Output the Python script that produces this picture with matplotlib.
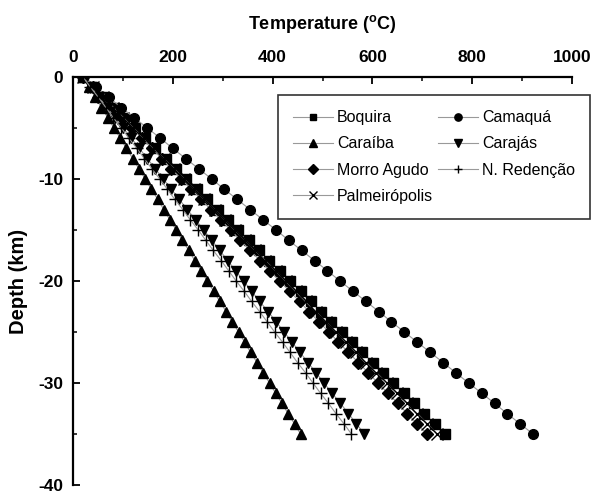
import matplotlib
matplotlib.use("Agg")
import matplotlib.pyplot as plt
from matplotlib.ticker import MultipleLocator

plt.rcParams["font.family"] = ["Liberation Sans", "DejaVu Sans"]
plt.rcParams["mathtext.fontset"] = "custom"
plt.rcParams["mathtext.rm"] = "Liberation Sans:bold"
plt.rcParams["mathtext.bf"] = "Liberation Sans:bold"
plt.rcParams["axes.unicode_minus"] = False

# depth (km), one point every km down to 35 km
DEPTH = [-z for z in range(0, 36)]

BOQUIRA = [20, 41, 61, 82, 103, 124, 144, 165, 186, 207, 227, 248, 269, 290,
           310, 331, 352, 373, 393, 414, 435, 456, 476, 497, 518, 539, 559,
           580, 601, 621, 642, 663, 684, 704, 725, 746]
CAMAQUA = [20, 46, 72, 97, 123, 149, 175, 200, 226, 252, 278, 303, 329, 355,
           381, 407, 432, 458, 484, 510, 535, 561, 587, 613, 638, 664, 690,
           716, 742, 767, 793, 819, 845, 870, 896, 922]
CARAIBA = [20, 32, 45, 57, 70, 82, 95, 107, 120, 132, 145, 157, 170, 182,
           194, 207, 219, 232, 244, 257, 269, 282, 294, 307, 319, 332, 344,
           356, 369, 381, 394, 406, 419, 431, 444, 456]
CARAJAS = [20, 36, 52, 68, 84, 101, 117, 133, 149, 165, 181, 197, 213, 229,
           246, 262, 278, 294, 310, 326, 342, 358, 374, 391, 407, 423, 439,
           455, 471, 487, 503, 519, 536, 552, 568, 584]
MORRO_AGUDO = [20, 40, 59, 79, 99, 119, 138, 158, 178, 197, 217, 237, 257,
               276, 296, 316, 335, 355, 375, 394, 414, 434, 454, 473, 493,
               513, 532, 552, 572, 592, 611, 631, 651, 670, 690, 710]
N_REDENCAO = [20, 35, 51, 66, 81, 97, 112, 128, 143, 158, 174, 189, 204, 220,
              235, 251, 266, 281, 297, 312, 327, 343, 358, 374, 389, 404, 420,
              435, 450, 466, 481, 496, 512, 527, 543, 558]
PALMEIROPOLIS = [20, 40, 61, 81, 101, 121, 142, 162, 182, 203, 223, 243, 263,
                 284, 304, 324, 345, 365, 385, 406, 426, 446, 466, 487, 507,
                 527, 548, 568, 588, 608, 629, 649, 669, 690, 710, 730]

# legend order is column-major with ncol=2
SERIES = [
    ("Boquira", BOQUIRA, "s", 6.5),
    ("Caraíba", CARAIBA, "^", 7.5),
    ("Morro Agudo", MORRO_AGUDO, "D", 6.3),
    ("Palmeirópolis", PALMEIROPOLIS, "x", 8),
    ("Camaquá", CAMAQUA, "o", 7),
    ("Carajás", CARAJAS, "v", 7.5),
    ("N. Redenção", N_REDENCAO, "+", 8),
]

fig = plt.figure(figsize=(5.92, 4.95), dpi=100)
ax = fig.add_axes([73 / 592, 1 - 485 / 495, 499 / 592, 408 / 495])

for name, temp, mk, ms in SERIES:
    ax.plot(temp, DEPTH, color="0.6", lw=0.8, marker=mk, ms=ms,
            mfc="black", mec="black", mew=1.0, label=name)

ax.set_xlim(0, 1000)
ax.set_ylim(-40, 0)
ax.xaxis.tick_top()
ax.xaxis.set_label_position("top")
ax.xaxis.set_major_locator(MultipleLocator(200))
ax.xaxis.set_minor_locator(MultipleLocator(100))
ax.yaxis.set_major_locator(MultipleLocator(10))
ax.yaxis.set_minor_locator(MultipleLocator(5))
for side in ("right", "bottom"):
    ax.spines[side].set_visible(False)
for side in ("top", "left"):
    ax.spines[side].set_linewidth(1.6)

ax.tick_params(axis="x", which="major", direction="in", length=5, width=1.3,
               pad=9, labelsize=12.5)
ax.tick_params(axis="y", which="major", direction="in", length=5, width=1.3,
               pad=7, labelsize=12.5)
ax.tick_params(which="minor", direction="in", length=3, width=1.1)
for lab in ax.get_xticklabels() + ax.get_yticklabels():
    lab.set_fontweight("bold")

ax.set_xlabel(r"Temperature ($^{\mathbf{o}}$C)", fontsize=13,
              fontweight="bold", labelpad=15)
ax.set_ylabel("Depth (km)", fontsize=14.5, fontweight="bold", labelpad=7)

leg = ax.legend(ncol=2, loc="upper right",
                bbox_to_anchor=(590 / 592, 1 - 95 / 495),
                bbox_transform=fig.transFigure, fontsize=11.5, frameon=True,
                fancybox=False, edgecolor="black", borderaxespad=0,
                handlelength=2.5, handletextpad=0.25, columnspacing=0.3,
                labelspacing=0.7, markerscale=0.75, borderpad=0.95)
leg.get_frame().set_linewidth(1.2)

fig.savefig("out.png", dpi=100)
